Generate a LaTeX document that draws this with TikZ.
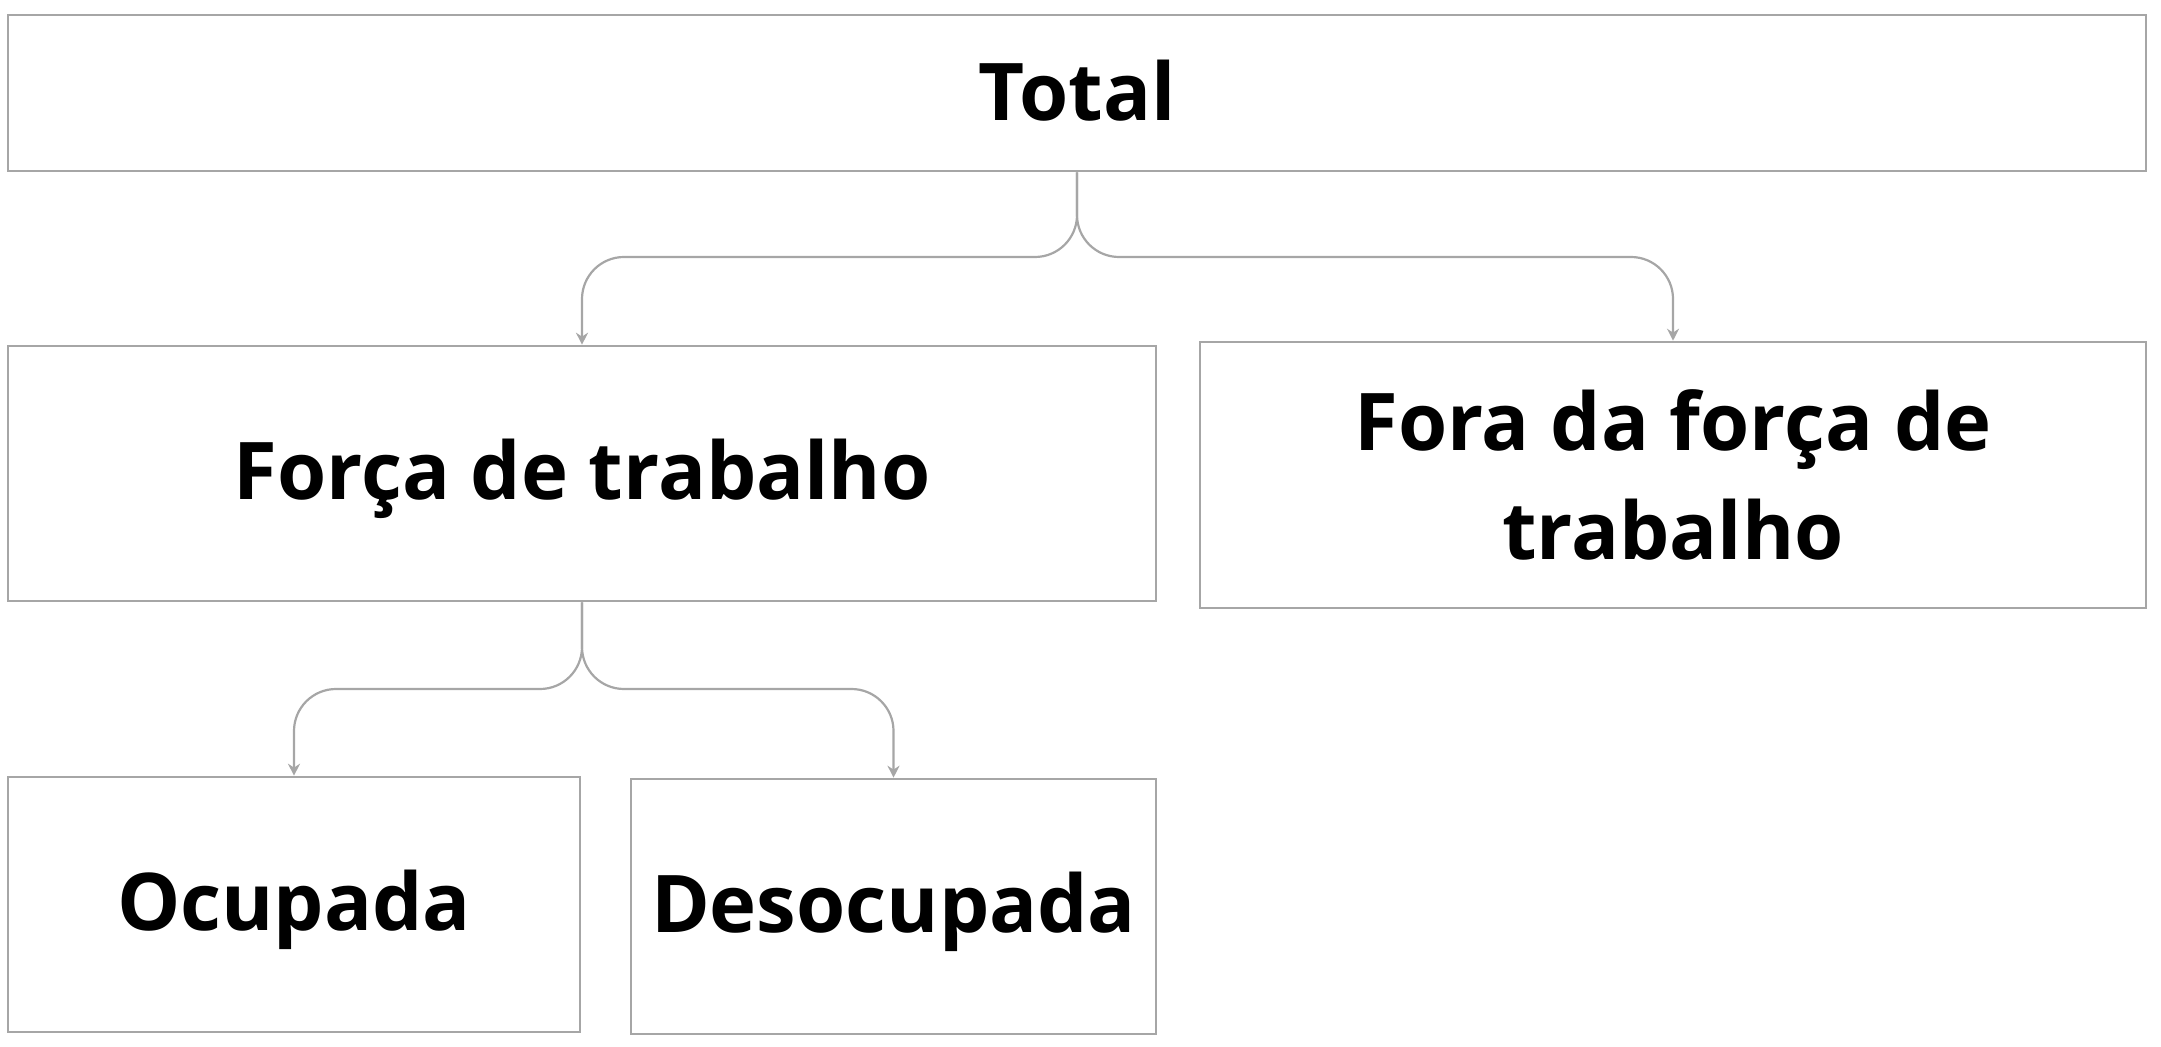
\documentclass[tikz,border=0pt]{standalone}
\usepackage{fontspec}
\setmainfont{Open Sans}
\usetikzlibrary{arrows.meta}
\definecolor{linegray}{HTML}{A6A6A6}
\tikzset{
  box/.style={draw=linegray,line width=1.3pt,inner sep=0pt,align=center,
    font=\fontsize{39.8}{54.5}\selectfont\bfseries},
  conn/.style={draw=linegray,line width=1.1pt,rounded corners=21pt,
    -{Stealth[length=6pt,width=6pt]}}
}
\begin{document}
\begin{tikzpicture}[x=0.5pt,y=-0.5pt]
\useasboundingbox (0,0) rectangle (2161,1047);
\node[box,minimum width=1069pt,minimum height=78pt,text depth=2.8pt] (total) at (1077,93) {Total};
\node[box,minimum width=574pt,minimum height=127.5pt,text depth=4pt] (forca) at (582,473.5) {Força de trabalho};
\node[box,minimum width=473pt,minimum height=133pt] (fora) at (1673,475) {Fora da força de\\trabalho};
\node[box,minimum width=286pt,minimum height=127.5pt,text depth=4pt] (ocupada) at (294,904.5) {Ocupada};
\node[box,minimum width=262.5pt,minimum height=127.5pt,text depth=4pt] (desocupada) at (893.5,906.5) {Desocupada};
\coordinate (tsplit) at (1077,257);
\coordinate (fsplit) at (582,689);
\draw[conn] (total.south) -- (tsplit) -| (forca.north);
\draw[conn] (total.south) -- (tsplit) -| (fora.north);
\draw[conn] (forca.south) -- (fsplit) -| (ocupada.north);
\draw[conn] (forca.south) -- (fsplit) -| (desocupada.north);
\end{tikzpicture}
\end{document}
